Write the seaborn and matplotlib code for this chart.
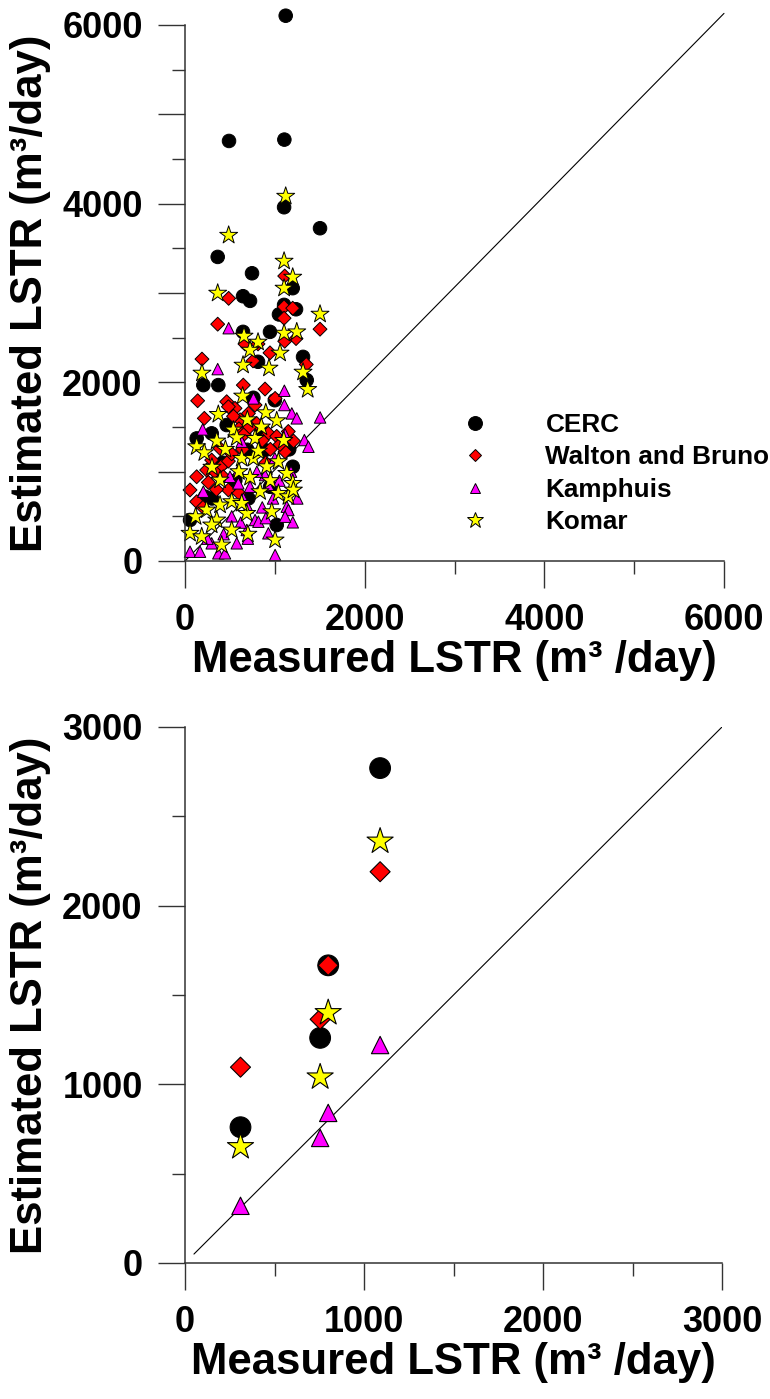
import matplotlib
matplotlib.use("Agg")
import matplotlib.pyplot as plt
from matplotlib.ticker import MultipleLocator, FuncFormatter
from matplotlib.lines import Line2D
import seaborn as sns
import pandas as pd

sns.set_style("white")
plt.rcParams['font.family'] = ['Liberation Sans', 'DejaVu Sans']
plt.rcParams['font.weight'] = 'bold'
plt.rcParams['text.color'] = 'black'
plt.rcParams['axes.labelcolor'] = 'black'
plt.rcParams['xtick.color'] = 'black'
plt.rcParams['ytick.color'] = 'black'

# ---------------- data: top panel (all field data) ----------------
cerc_x = [1121, 490, 1106, 1103, 1503, 364, 746, 646, 724, 1199, 1103, 1236, 1046, 646, 946,
          1314, 813, 1355, 204, 371, 761, 464, 297, 130, 1200, 947, 706, 223, 56, 1021,
          694, 891, 1160, 560, 300, 850, 1000, 420]
cerc_y = [6104, 4702, 4717, 3960, 3725, 3404, 3221, 2964, 2912, 3054, 2867, 2818, 2760, 2565, 2565,
          2285, 2230, 2025, 1969, 1969, 1827, 1522, 1429, 1372, 1055, 831, 701, 720, 459, 403,
          1245, 1242, 1250, 900, 700, 1450, 1800, 1100]

walton_x = [1110, 486, 1103, 1199, 1103, 364, 1503, 189, 1236, 1110, 946, 667, 813, 757, 1350,
            649, 891, 1003, 141, 464, 557, 483, 215, 780, 613, 798, 928, 1021, 297, 408,
            241, 130, 56, 130, 1208, 1114, 483, 390, 1058, 706, 483, 427,
            540, 600, 660, 720, 860, 950, 640, 520, 330, 260, 350, 600, 200, 900, 1150]
walton_y = [3190, 2940, 2845, 2830, 2718, 2651, 2595, 2260, 2490, 2460, 2330, 2430, 2430, 2240, 2200,
            1969, 1925, 1820, 1794, 1783, 1709, 1727, 1597, 1746, 1581, 1540, 1429, 1395, 1130, 1063,
            1018, 943, 795, 664, 1343, 1223, 1118, 1260, 1305, 1652, 795, 943,
            1620, 1480, 1420, 1500, 1350, 1250, 1250, 1200, 1000, 880, 800, 760, 600, 1100, 1450]

kamphuis_x = [486, 364, 1106, 1106, 762, 1189, 1244, 1504, 197, 1114, 1329, 1374, 631, 501, 594,
              724, 891, 928, 1133, 1151, 1200, 687, 780, 817, 928, 1003, 56, 167, 297, 371,
              445, 576, 520, 204, 594, 1114,
              650, 700, 860, 980, 1050, 1180, 800, 1000, 1250, 900, 620, 430, 250, 700]
kamphuis_y = [2606, 2148, 1906, 1746, 1820, 1652, 1597, 1607, 1473, 1417, 1354, 1279, 1336, 943, 869,
              832, 962, 850, 608, 571, 433, 347, 459, 440, 310, 67, 104, 104, 198, 86,
              86, 198, 500, 776, 1018, 496,
              700, 600, 600, 700, 900, 1000, 1000, 1150, 700, 480, 430, 300, 250, 250]

komar_x = [1121, 486, 1103, 1199, 1103, 364, 1503, 657, 813, 1103, 1244, 724, 1058, 646, 935,
           1314, 189, 1366, 642, 371, 899, 1021, 694, 538, 576, 780, 353, 130, 215, 631,
           761, 817, 910, 1040, 1133, 724, 390, 1200, 836, 1040, 1151, 520, 390, 241, 687,
           966, 353, 56, 186, 520, 408, 1003, 297, 118, 631, 1207,
           450, 300, 850, 950, 600, 1100, 700]
komar_y = [4083, 3646, 3356, 3177, 3054, 2998, 2763, 2517, 2450, 2550, 2565, 2360, 2327, 2192, 2159,
           2114, 2103, 1920, 1846, 1641, 1660, 1570, 1581, 1466, 1380, 1372, 1343, 1279, 1212, 1149,
           1149, 1230, 1055, 1112, 981, 936, 906, 869, 776, 757, 720, 664, 627, 571, 533,
           552, 459, 310, 272, 347, 179, 235, 403, 496, 645, 794,
           1250, 1050, 1500, 900, 1000, 1350, 300]

# ---------------- data: bottom panel ----------------
b_x = [310, 755, 800, 1090]
b_cerc = [760, 1260, 1666, 2770]
b_walton = [1096, 1364, 1666, 2190]
b_kamphuis = [320, 700, 840, 1220]
b_komar = [650, 1040, 1400, 2360]

line_top_x = [0, 6000]
line_top_y = [0, 6130]
line_bot_x = [50, 3000]
line_bot_y = [50, 3000]

models = ["CERC", "Walton and Bruno", "Kamphuis", "Komar"]
colors = {"CERC": "#000000", "Walton and Bruno": "#FF0000", "Kamphuis": "#FF00FF", "Komar": "#FFFF00"}
markers = {"CERC": "o", "Walton and Bruno": "D", "Kamphuis": "^", "Komar": "*"}
sizes_top = {"CERC": 95, "Walton and Bruno": 50, "Kamphuis": 68, "Komar": 185}
sizes_bot = {"CERC": 222, "Walton and Bruno": 104, "Kamphuis": 156, "Komar": 390}

top_df = pd.concat([
    pd.DataFrame({"x": cerc_x, "y": cerc_y, "model": "CERC"}),
    pd.DataFrame({"x": walton_x, "y": walton_y, "model": "Walton and Bruno"}),
    pd.DataFrame({"x": kamphuis_x, "y": kamphuis_y, "model": "Kamphuis"}),
    pd.DataFrame({"x": komar_x, "y": komar_y, "model": "Komar"}),
], ignore_index=True)

bot_df = pd.concat([
    pd.DataFrame({"x": b_x, "y": b_cerc, "model": "CERC"}),
    pd.DataFrame({"x": b_x, "y": b_walton, "model": "Walton and Bruno"}),
    pd.DataFrame({"x": b_x, "y": b_kamphuis, "model": "Kamphuis"}),
    pd.DataFrame({"x": b_x, "y": b_komar, "model": "Komar"}),
], ignore_index=True)

W, H = 770, 1399
fig = plt.figure(figsize=(W / 100, H / 100), dpi=100)
ax1 = fig.add_axes([185 / W, 1 - 561 / H, 539 / W, 536 / H])
ax2 = fig.add_axes([185 / W, 1 - 1263 / H, 537 / W, 536 / H])

tick_fs = 26
label_fs = 31.5
ylabel_txt = "Estimated LSTR (m³/day)"
xlabel_txt = "Measured LSTR (m³ /day)"


def style_axes(ax, lim, xmaj, xmin, ymaj, ymin, ylab_step, xlab_step):
    ax.set_xlim(0, lim)
    ax.set_ylim(0, lim)
    for s in ["top", "right"]:
        ax.spines[s].set_visible(False)
    for s in ["left", "bottom"]:
        ax.spines[s].set_color("#333333")
        ax.spines[s].set_linewidth(1.1)
    ax.xaxis.set_major_locator(MultipleLocator(xmaj))
    ax.xaxis.set_minor_locator(MultipleLocator(xmin))
    ax.yaxis.set_major_locator(MultipleLocator(ymaj))
    ax.yaxis.set_minor_locator(MultipleLocator(ymin))
    ax.xaxis.set_major_formatter(FuncFormatter(
        lambda v, p: f"{int(round(v))}" if int(round(v)) % xlab_step == 0 else ""))
    ax.yaxis.set_major_formatter(FuncFormatter(
        lambda v, p: f"{int(round(v))}" if int(round(v)) % ylab_step == 0 else ""))
    ax.tick_params(which="major", direction="out", length=19.5, width=1.0, color="#333333",
                   labelsize=tick_fs, labelcolor="black", pad=11, bottom=True, left=True)
    ax.tick_params(which="minor", direction="out", length=9.5, width=1.0, color="#333333",
                   bottom=True, left=True)
    for lab in ax.get_xticklabels() + ax.get_yticklabels():
        lab.set_fontweight("bold")
    ax.set_xlabel(xlabel_txt, fontsize=label_fs, fontweight="bold", labelpad=1, color="black")
    ax.set_ylabel(ylabel_txt, fontsize=label_fs, fontweight="bold", labelpad=8, color="black")
    ax.set_facecolor("white")


# top panel
ax1.plot(line_top_x, line_top_y, color="black", lw=0.8, zorder=1, clip_on=False)
sns.scatterplot(data=top_df, x="x", y="y", hue="model", style="model", size="model",
                palette=colors, markers=markers, sizes=sizes_top,
                hue_order=models, style_order=models, size_order=models,
                edgecolor="black", linewidth=0.7, alpha=1, legend=False, ax=ax1, zorder=2,
                clip_on=False)
style_axes(ax1, 6000, 2000, 1000, 1000, 500, 2000, 2000)

# bottom panel
ax2.plot(line_bot_x, line_bot_y, color="black", lw=0.8, zorder=1)
sns.scatterplot(data=bot_df, x="x", y="y", hue="model", style="model", size="model",
                palette=colors, markers=markers, sizes=sizes_bot,
                hue_order=models, style_order=models, size_order=models,
                edgecolor="black", linewidth=0.8, alpha=1, legend=False, ax=ax2, zorder=2)
style_axes(ax2, 3000, 1000, 500, 1000, 500, 1000, 1000)

# legend (top panel)
leg_ms = {"CERC": 10, "Walton and Bruno": 6.6, "Kamphuis": 6.5, "Komar": 12}
handles = [Line2D([], [], ls="", marker=markers[m], markersize=leg_ms[m],
                  markerfacecolor=colors[m], markeredgecolor="black", markeredgewidth=0.7)
           for m in models]
leg = ax1.legend(handles, models, loc="upper left", bbox_to_anchor=(436 / W, 1 - 400 / H),
                 bbox_transform=fig.transFigure, frameon=False, borderpad=0,
                 handlelength=2.0, handletextpad=1.69, labelspacing=0.32,
                 prop={"family": ["Liberation Sans", "DejaVu Sans"], "weight": "bold", "size": 18.8})
for t in leg.get_texts():
    t.set_color("black")

fig.savefig("out.png", dpi=100, facecolor="white")
